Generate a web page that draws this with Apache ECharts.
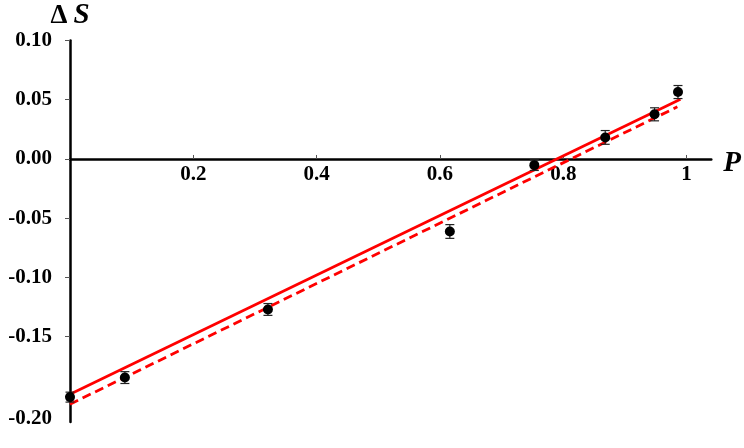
<!DOCTYPE html>
<html>
<head>
<meta charset="utf-8">
<script src="https://cdn.jsdelivr.net/npm/echarts@6/dist/echarts.min.js"></script>
<style>
  html, body { margin: 0; padding: 0; background: #fff; }
  #chart { width: 744px; height: 448px; }
</style>
</head>
<body>
<div id="chart"></div>
<script>
// measured points (P, ΔS) with error
const pValues = [0, 0.089, 0.321, 0.616, 0.753, 0.868, 0.948, 0.986];
const dsValues = [-0.201, -0.1845, -0.127, -0.0612, -0.0052, 0.0182, 0.0377, 0.0565];
const dsErrors = [0.0042, 0.005, 0.005, 0.0058, 0.0045, 0.0058, 0.0055, 0.0055];

// fit lines (end points)
const solidLine = [[0, -0.1986], [0.99, 0.0505]];
const dashedLine = [[0, -0.207], [0.985, 0.044]];

// tick labels
const xTicks = [0.2, 0.4, 0.6, 0.8, 1];
const yTicks = [0.1, 0.05, 0, -0.05, -0.1, -0.15, -0.2];

const font = "Liberation Serif";
const yMin = -0.222;
const yMax = 0.1;
const gridTop = 40.5;
const gridBottom = 26;

const chart = echarts.init(document.getElementById("chart"));

// x axis sits on ΔS = 0, so shift it up from the grid bottom
const plotH = 448 - gridTop - gridBottom;
const zeroOffset = -plotH * (0 - yMin) / (yMax - yMin);

const option = {
  backgroundColor: "#fff",
  animation: false,
  grid: { left: 70, right: 32, top: gridTop, bottom: gridBottom, containLabel: false },
  xAxis: {
    type: "value",
    min: 0,
    max: 1.04,
    position: "bottom",
    offset: zeroOffset,
    name: "{p|P}",
    nameLocation: "end",
    nameGap: 12,
    nameTextStyle: {
      rich: {
        p: {
          fontFamily: font, fontSize: 29, fontWeight: "bold", fontStyle: "italic",
          color: "#000", padding: [10, 0, 0, 0],
        },
      },
    },
    axisLine: { onZero: false, lineStyle: { color: "#000", width: 2.5 } },
    axisTick: {
      show: true, inside: true, length: 4, customValues: xTicks,
      lineStyle: { color: "#555", width: 1 },
    },
    axisLabel: {
      customValues: xTicks,
      margin: 5,
      fontFamily: font, fontSize: 21, fontWeight: "bold", color: "#000",
      formatter: (v) => String(v),
    },
    splitLine: { show: false },
  },
  yAxis: {
    type: "value",
    min: yMin,
    max: yMax,
    name: "{d|Δ}{s|S}",
    nameLocation: "end",
    nameGap: 8,
    nameTextStyle: {
      align: "center",
      rich: {
        d: { fontFamily: font, fontSize: 27, fontWeight: "bold", color: "#000", padding: [0, 6, 0, 0] },
        s: { fontFamily: font, fontSize: 29, fontWeight: "bold", fontStyle: "italic", color: "#000" },
      },
    },
    axisLine: { show: true, onZero: false, lineStyle: { color: "#000", width: 2.5 } },
    axisTick: {
      show: true, length: 5, customValues: yTicks,
      lineStyle: { color: "#555", width: 1 },
    },
    axisLabel: {
      customValues: yTicks,
      margin: 18,
      fontFamily: font, fontSize: 21, fontWeight: "bold", color: "#000",
      formatter: (v) => (Math.abs(v + 0.2) < 1e-9 ? "{low|" + v.toFixed(2) + "}" : v.toFixed(2)),
      rich: {
        low: { fontFamily: font, fontSize: 21, fontWeight: "bold", color: "#000", padding: [46, 0, 0, 0] },
      },
    },
    splitLine: { show: false },
  },
  series: [
    {
      name: "fit",
      type: "line",
      data: solidLine,
      showSymbol: false,
      lineStyle: { color: "#ff0000", width: 2.8 },
      z: 3,
    },
    {
      name: "fit2",
      type: "line",
      data: dashedLine,
      showSymbol: false,
      lineStyle: { color: "#ff0000", width: 2.8, type: [9, 5] },
      z: 3,
    },
    {
      name: "error",
      type: "custom",
      data: pValues.map((p, i) => [p, dsValues[i] - dsErrors[i], dsValues[i] + dsErrors[i]]),
      renderItem: (params, api) => {
        const lo = api.coord([api.value(0), api.value(1)]);
        const hi = api.coord([api.value(0), api.value(2)]);
        const w = 4.5;
        const style = { stroke: "#222", lineWidth: 1.2 };
        return {
          type: "group",
          children: [
            { type: "line", shape: { x1: lo[0], y1: lo[1], x2: hi[0], y2: hi[1] }, style },
            { type: "line", shape: { x1: lo[0] - w, y1: lo[1], x2: lo[0] + w, y2: lo[1] }, style },
            { type: "line", shape: { x1: hi[0] - w, y1: hi[1], x2: hi[0] + w, y2: hi[1] }, style },
          ],
        };
      },
      z: 4,
    },
    {
      name: "data",
      type: "scatter",
      data: pValues.map((p, i) => [p, dsValues[i]]),
      symbol: "circle",
      symbolSize: 10,
      itemStyle: { color: "#000", opacity: 1 },
      z: 5,
    },
  ],
};

chart.setOption(option);
</script>
</body>
</html>
